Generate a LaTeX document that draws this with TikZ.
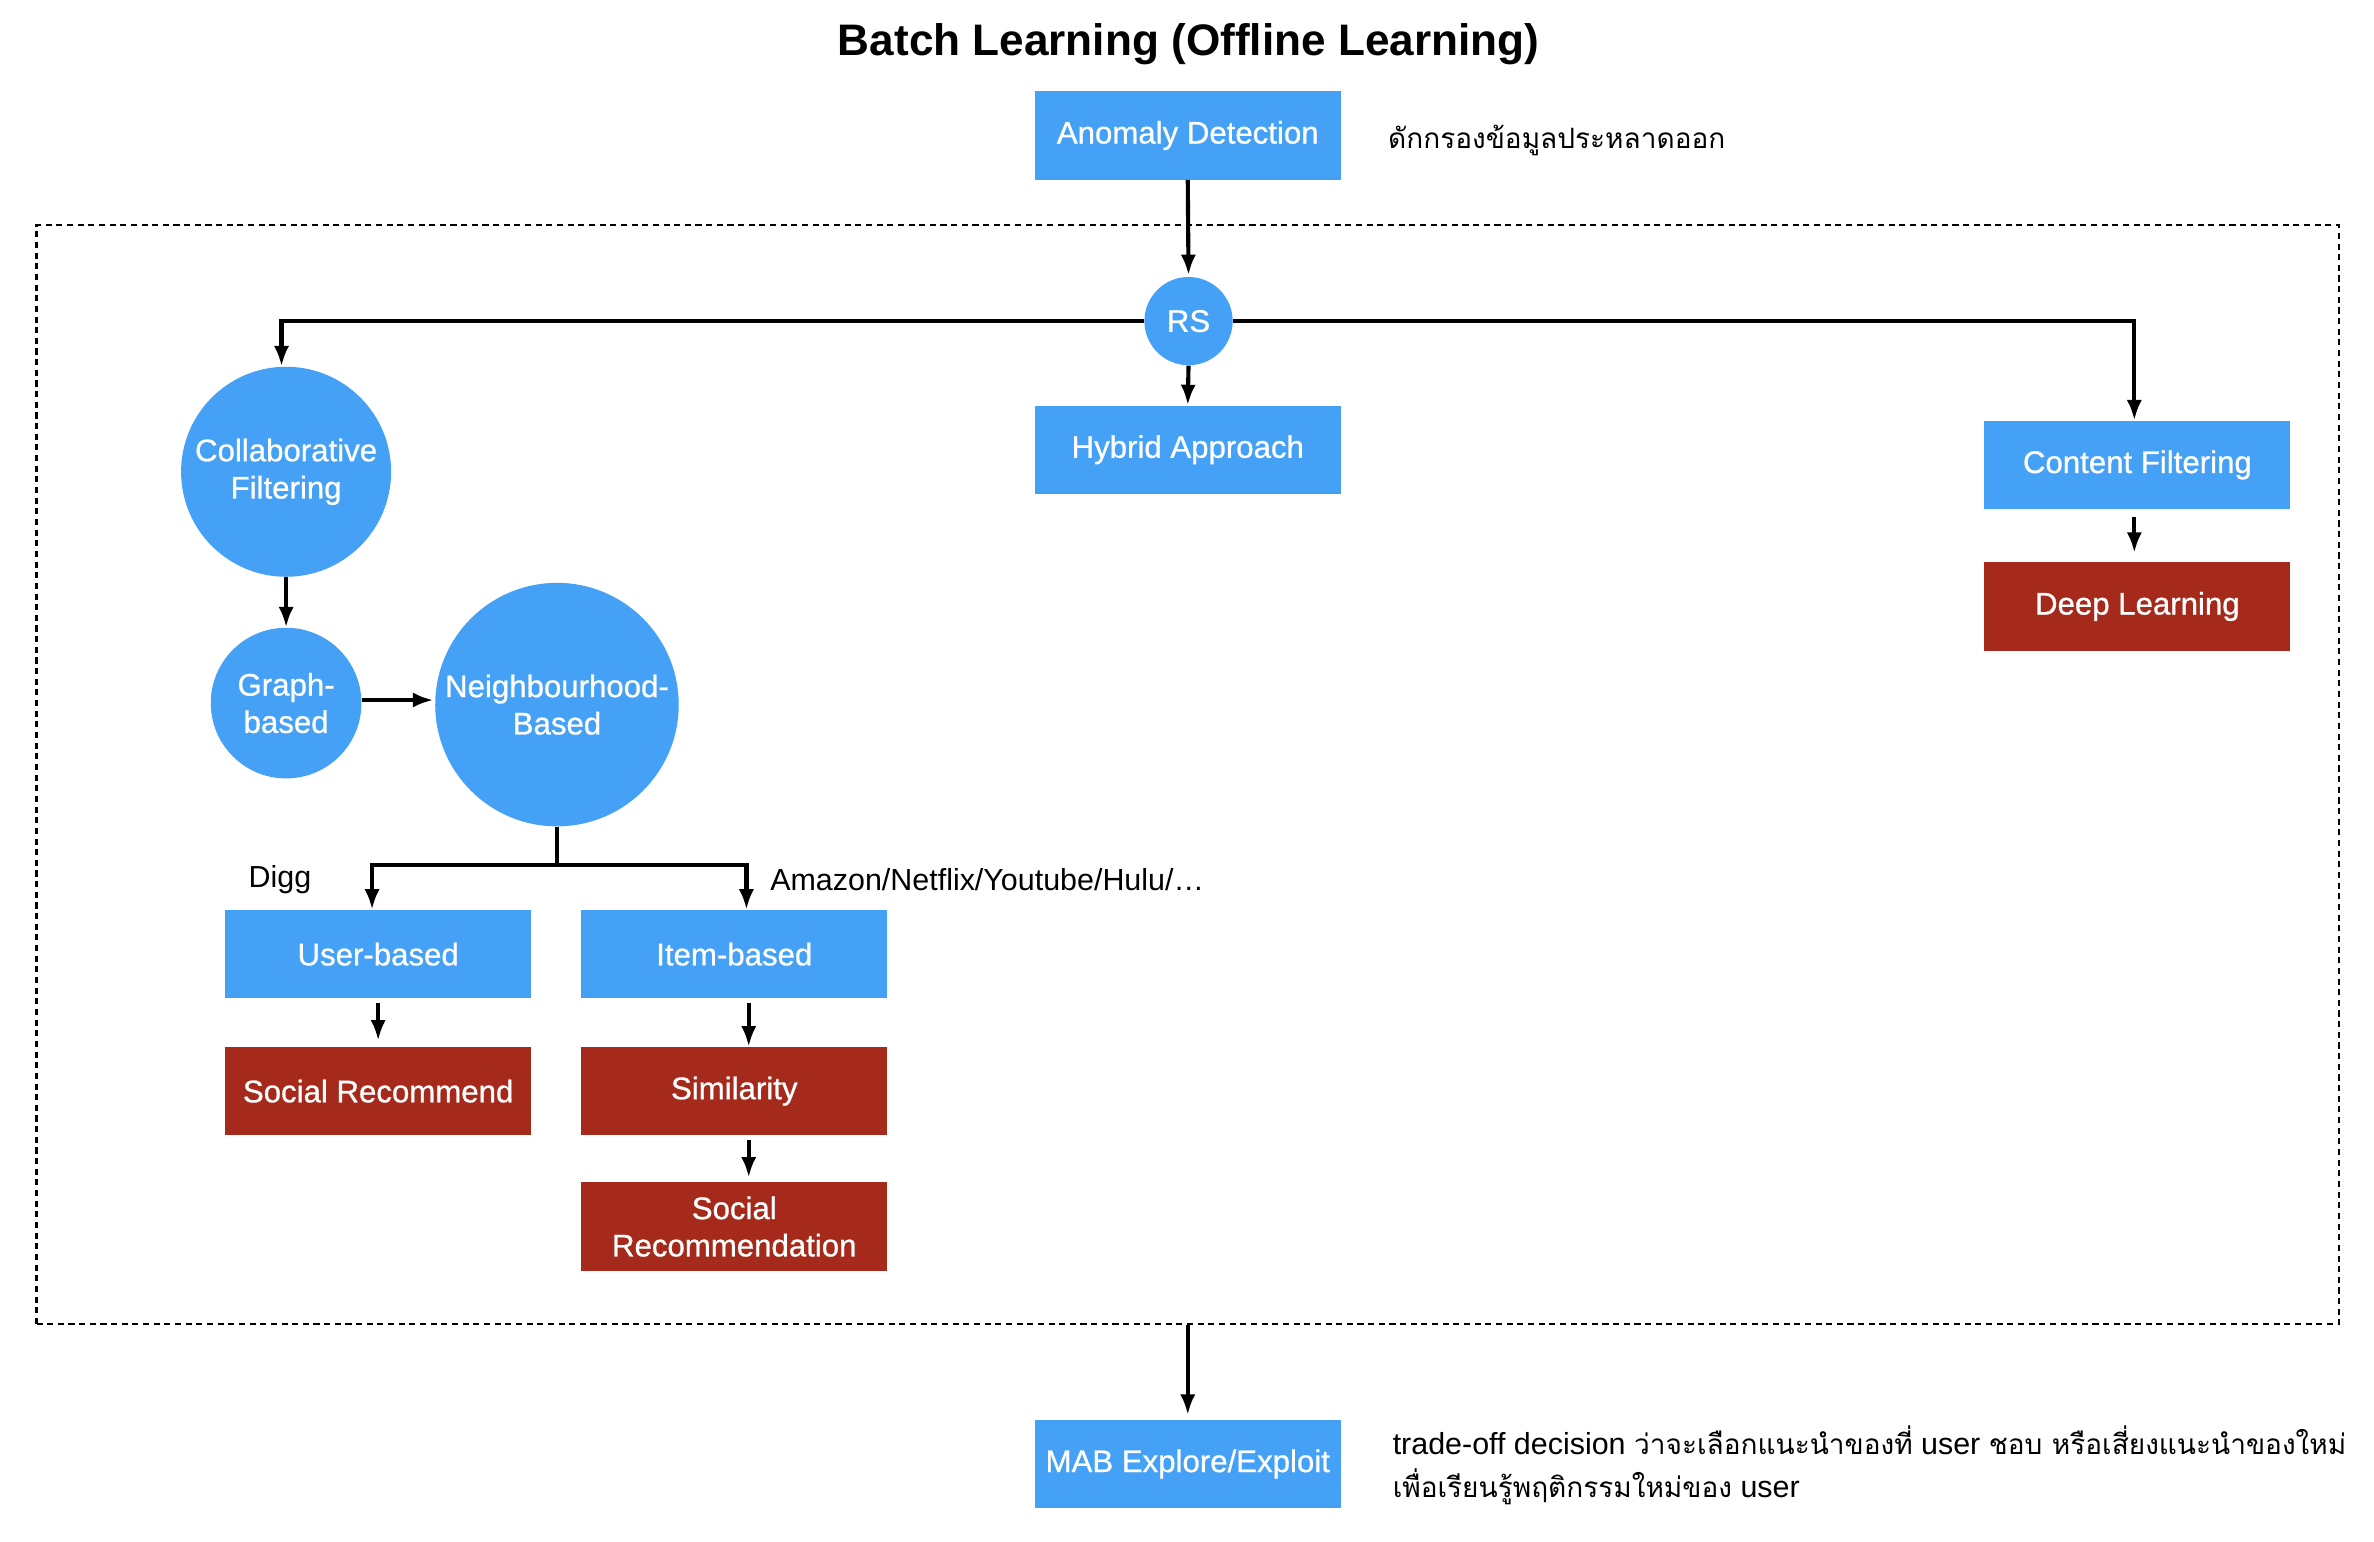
\documentclass[tikz,border=0pt]{standalone}
\usepackage{fontspec}
\setmainfont{Liberation Sans}
\newfontfamily\thaifont[Script=Thai,Scale=0.92]{Loma}
\newfontfamily\medfont[FakeBold=0.8]{Liberation Sans}
\usetikzlibrary{arrows.meta}
\definecolor{boxblue}{RGB}{68,161,245}
\definecolor{boxred}{RGB}{166,42,27}
\tikzset{
  labelfont/.style={font=\medfont\fontsize{20.5}{24.5}\selectfont},
  bluebox/.style={rectangle, fill=boxblue, text=white, minimum width=201pt, minimum height=58pt, inner sep=0pt, align=center, labelfont},
  redbox/.style={bluebox, fill=boxred},
  bluecirc/.style={circle, fill=boxblue, text=white, inner sep=0pt, align=center, labelfont},
  conn/.style={line width=2.7pt, -{Latex[length=13.5pt,width=10pt]}},
  plainline/.style={line width=2.7pt},
  note/.style={inner sep=0pt, font=\fontsize{20}{28}\selectfont},
  frame/.style={draw, line width=1.5pt, dash pattern=on 4pt off 3pt, minimum width=1513pt, minimum height=722pt, inner sep=0pt}
}
\begin{document}
\begin{tikzpicture}[x=1pt,y=-1pt]
\useasboundingbox[fill=white] (0,0) rectangle (1560,1013);

\node[font=\bfseries\fontsize{29}{34}\selectfont, inner sep=0pt] (title) at (781,29) {Batch Learning (Offline Learning)};

\node[frame] (frm) at (780.5,509) {};

\node[bluebox] (ad) at (780.5,89) {Anomaly Detection};
\node[note, anchor=west] (adnote) at (912,92) {\thaifont ดักกรองข้อมูลประหลาดออก};

\node[bluecirc, minimum size=58pt] (rs) at (781,211) {RS};
\node[bluebox] (hy) at (780.5,295.5) {Hybrid Approach};
\node[bluebox] (cont) at (1404.5,305.5) {Content Filtering};
\node[redbox] (dl) at (1404.5,398.5) {Deep Learning};

\node[bluecirc, minimum size=138pt] (cf) at (188,310) {Collaborative\\Filtering};
\node[bluecirc, minimum size=99pt] (gb) at (188,462) {Graph-\\based};
\node[bluecirc, minimum size=160pt] (nb) at (366,463) {Neighbourhood-\\Based};

\node[note] (digg) at (184,578) {Digg};
\node[note, anchor=west] (amz) at (506,578) {Amazon/Netflix/Youtube/Hulu/…};

\node[bluebox] (ub) at (248.5,627) {User-based};
\node[bluebox] (ib) at (482.5,627) {Item-based};
\node[redbox] (sr) at (248.5,717) {Social Recommend};
\node[redbox] (sim) at (482.5,717) {Similarity};
\node[redbox] (srn) at (482.5,806) {Social\\Recommendation};

\node[bluebox] (mab) at (780.5,962) {MAB Explore/Exploit};
\node[note, anchor=west, align=left] (mabnote) at (915,963) {trade-off decision {\thaifont ว่าจะเลือกแนะนำของที่} user {\thaifont ชอบ หรือเสี่ยงแนะนำของใหม่}\\{\thaifont เพื่อเรียนรู้พฤติกรรมใหม่ของ} user};

% connectors
\draw[conn, shorten >=1pt] (ad.south) -- (rs.north);
\draw[conn] (rs.west) -| ([xshift=-3pt]cf.north);
\draw[conn] (rs.east) -| ([xshift=-2pt]cont.north);
\draw[conn] (rs.south) -- (hy.north);
\draw[conn, shorten <=5pt, shorten >=6pt] ([xshift=-2pt]cont.south) -- ([xshift=-2pt]dl.north);
\draw[conn] (cf.south) -- (gb.north);
\draw[conn, shorten >=1pt] ([yshift=2pt]gb.east) -- ([yshift=2pt]gb.east -| nb.west);
\draw[plainline] (nb.south) -- ++(0,25) coordinate (jn);
\draw[conn] ([xshift=1.35pt]jn) -| ([xshift=-4pt]ub.north);
\draw[conn] ([xshift=-1.35pt]jn) -| ([xshift=8pt]ib.north);
\draw[conn, shorten <=3pt, shorten >=4pt] (ub.south) -- (sr.north);
\draw[conn, shorten <=3pt] ([xshift=9.5pt]ib.south) -- ([xshift=9.5pt]sim.north);
\draw[conn, shorten <=3pt, shorten >=3pt] ([xshift=9.5pt]sim.south) -- ([xshift=9.5pt]srn.north);
\draw[conn, shorten >=3pt] (frm.south) -- (mab.north);
\end{tikzpicture}
\end{document}
